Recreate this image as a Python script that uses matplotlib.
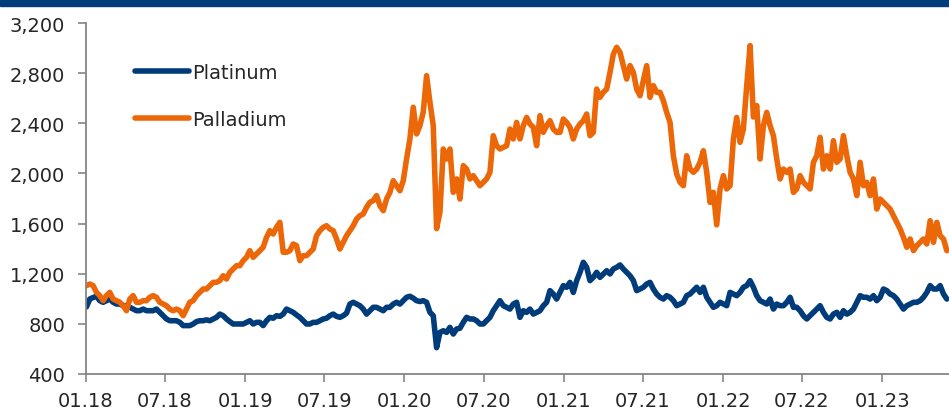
import numpy as np
import pandas as pd
import matplotlib
matplotlib.use("Agg")
import matplotlib.pyplot as plt
import matplotlib.dates as mdates
from matplotlib.ticker import FuncFormatter

# weekly-ish closing prices, USD/oz, Jan 2018 - May 2023
platinum = [
    935, 998, 1010, 1020, 985, 972, 985, 998, 972, 958, 958, 945, 945, 932, 918, 905, 905, 918, 905, 905,
    905, 918, 892, 865, 839, 825, 825, 825, 812, 786, 786, 786, 799, 818, 825, 825, 832, 825, 839, 852,
    878, 865, 839, 818, 799, 799, 799, 799, 812, 825,
    799, 812, 812, 786, 825, 852, 845, 865, 860, 878, 918, 905, 892, 871, 852, 825, 799, 799, 812, 812,
    825, 839, 845, 865, 878, 860, 852, 865, 885, 958, 972, 958, 945, 918, 878, 905, 932, 932, 918, 905,
    932, 932, 958, 972, 958, 985, 1012, 1020, 1005, 985, 978,
    985, 972, 892, 865, 610, 732, 745, 732, 772, 719, 759, 765, 812, 852, 839, 839, 825, 799, 799, 825,
    852, 905, 945, 985, 945, 932, 918, 958, 972, 852, 905, 892, 918, 878, 892, 905, 945, 972, 1065, 1038,
    998, 1051, 1105, 1092, 1131, 1051, 1145, 1211, 1291, 1251, 1145,
    1171, 1211, 1171, 1198, 1224, 1198, 1238, 1251, 1270, 1238, 1211, 1184, 1145, 1065, 1078, 1092, 1118, 1131, 1078, 1038,
    1012, 998, 1025, 1012, 985, 945, 958, 972, 1025, 1038, 1065, 1092, 1051, 1092, 1012, 972, 932, 945, 972, 958,
    945, 1051, 1038, 1025, 1051, 1092, 1105, 1145, 1092, 1025, 985,
    972, 958, 998, 918, 958, 945, 945, 972, 1012, 932, 932, 905, 865, 839, 865, 892, 918, 945, 892, 852,
    839, 878, 892, 852, 905, 878, 892, 918, 972, 1025, 1012, 1012, 998, 1025, 985, 1012, 1078, 1065, 1038, 1025,
    998, 958, 918, 945, 958, 972, 972, 985, 1012, 1051, 1105, 1078, 1078, 1105, 1038, 998,
]

palladium = [
    1105, 1118, 1105, 1051, 1025, 985, 1025, 1051, 998, 985, 972, 945, 905, 998, 1025, 972, 972, 985, 985, 1012,
    1025, 1012, 972, 958, 945, 918, 905, 918, 905, 865, 918, 972, 985, 1025, 1051, 1078, 1078, 1105, 1131, 1131,
    1145, 1184, 1158, 1211, 1238, 1264, 1264, 1304, 1331, 1384,
    1331, 1357, 1384, 1411, 1490, 1543, 1517, 1570, 1610, 1371, 1371, 1384, 1437, 1424, 1304, 1344, 1344, 1371, 1397, 1503,
    1543, 1570, 1583, 1557, 1543, 1477, 1397, 1450, 1503, 1543, 1583, 1636, 1663, 1676, 1730, 1770, 1783, 1823, 1743, 1703,
    1796, 1849, 1942, 1902, 1862, 1942, 2115, 2275, 2528, 2315, 2381,
    2490, 2780, 2567, 2381, 1560, 1690, 2195, 2115, 2195, 1849, 1956, 1796, 2062, 2035, 1956, 1982, 1942, 1902, 1929, 1956,
    2009, 2301, 2221, 2195, 2208, 2221, 2354, 2275, 2407, 2275, 2381, 2447, 2394, 2368, 2221, 2461, 2328, 2381, 2421, 2354,
    2328, 2328, 2434, 2407, 2368, 2275, 2354, 2394, 2421, 2474, 2301,
    2328, 2673, 2607, 2647, 2673, 2806, 2952, 3006, 2966, 2860, 2753, 2860, 2806, 2673, 2620, 2740, 2860, 2607, 2700, 2647,
    2647, 2580, 2487, 2407, 2141, 1995, 1929, 1902, 2141, 2035, 2009, 2035, 2089, 2181, 2009, 1769, 1849, 1590, 1876, 1982,
    1876, 1902, 2275, 2447, 2248, 2354, 2700, 3020, 2450, 2541, 2115,
    2381, 2487, 2381, 2301, 2115, 1956, 2035, 2009, 2035, 1849, 1876, 1982, 1929, 1902, 1876, 2089, 2141, 2288, 2035, 2141,
    2035, 2261, 2089, 2115, 2301, 2141, 2009, 1956, 1823, 2089, 1902, 1929, 1823, 1956, 1716, 1796, 1769, 1743, 1716, 1663,
    1610, 1557, 1490, 1411, 1477, 1384, 1424, 1450, 1477, 1437, 1623, 1450, 1610, 1503, 1477, 1384,
]

dates = pd.date_range("2018-01-02", "2023-05-29", periods=len(platinum))

navy = "#003b7a"
orange = "#ec6707"
grey = "#858585"
txt = "#262626"

fig = plt.figure(figsize=(9.49, 4.14), dpi=100)
ax = fig.add_axes([86 / 949, 1 - 375 / 414, 1 - 86 / 949, (375 - 24) / 414])

# dark banner across the top
fig.patches.append(plt.Rectangle((0, 1 - 7 / 414), 1, 7 / 414, transform=fig.transFigure,
                                 color=navy, zorder=5))

ax.plot(dates, platinum, color=navy, lw=4, solid_joinstyle="round", solid_capstyle="round", label="Platinum")
ax.plot(dates, palladium, color=orange, lw=4, solid_joinstyle="round", solid_capstyle="round", label="Palladium")

ax.set_ylim(400, 3200)
ax.set_yticks(np.arange(400, 3201, 400))
ax.yaxis.set_major_formatter(FuncFormatter(lambda v, p: f"{int(v):,}"))
ax.set_xlim(pd.Timestamp("2018-01-01"), pd.Timestamp("2023-06-03"))
ax.xaxis.set_major_locator(mdates.MonthLocator(bymonth=[1, 7]))
ax.xaxis.set_major_formatter(mdates.DateFormatter("%m.%y"))

for s in ["top", "right"]:
    ax.spines[s].set_visible(False)
for s in ["left", "bottom"]:
    ax.spines[s].set_color(grey)
    ax.spines[s].set_linewidth(1.3)
ax.tick_params(axis="both", colors=grey, length=6, width=1.2, labelcolor=txt, labelsize=14)
ax.tick_params(axis="x", pad=6)
ax.tick_params(axis="y", pad=9)

leg = ax.legend(loc="upper left", bbox_to_anchor=(0.036, 0.937), frameon=False, fontsize=14,
                handlelength=2.78, handletextpad=0.2, labelspacing=1.44)
for t in leg.get_texts():
    t.set_color(txt)

fig.savefig("out.png", dpi=100)
